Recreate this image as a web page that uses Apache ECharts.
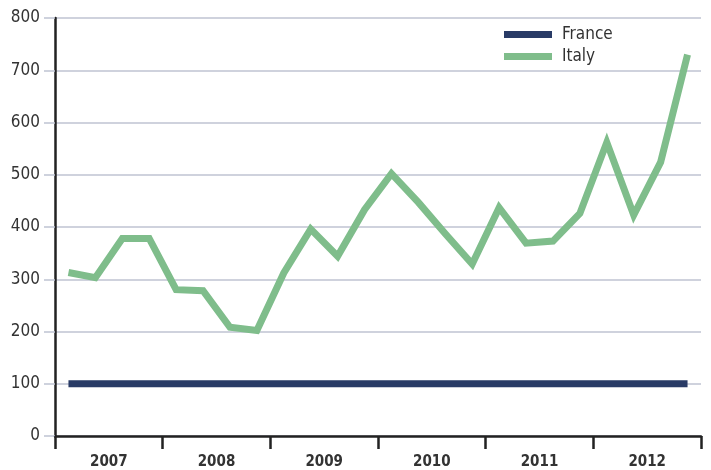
<!DOCTYPE html>
<html>
<head>
<meta charset="utf-8">
<script src="https://cdn.jsdelivr.net/npm/echarts@6/dist/echarts.min.js"></script>
<style>
  html, body { margin: 0; padding: 0; background: #fff; }
  #chart { width: 711px; height: 470px; }
</style>
</head>
<body>
<div id="chart"></div>
<script>
var years = ['2007', '2008', '2009', '2010', '2011', '2012'];
var quarters = ['Q1', 'Q2', 'Q3', 'Q4'];
var france = [100, 100, 100, 100, 100, 100, 100, 100, 100, 100, 100, 100,
              100, 100, 100, 100, 100, 100, 100, 100, 100, 100, 100, 100];
var italy = [313, 303, 378, 378, 280, 278, 208, 202, 312, 396, 344, 433,
             502, 447, 387, 329, 437, 369, 373, 426, 562, 423, 524, 730];
var yTicks = [0, 100, 200, 300, 400, 500, 600, 700, 800];

var periods = [];
years.forEach(function (y) {
    quarters.forEach(function (q) { periods.push(y + ' ' + q); });
});

var font = "'Liberation Sans Narrow', 'DejaVu Sans Condensed', sans-serif";

var option = {
    animation: false,
    backgroundColor: '#ffffff',
    textStyle: { fontFamily: font },
    legend: {
        orient: 'vertical',
        left: 504,
        top: 26,
        padding: 0,
        itemWidth: 48,
        itemHeight: 7,
        itemGap: 5,
        icon: 'rect',
        textStyle: { fontSize: 17, color: '#333', fontFamily: font, padding: [0, 0, 0, 5] },
        data: ['France', 'Italy']
    },
    grid: { left: 55, right: 10, top: 18, bottom: 31 },
    xAxis: [
        {
            type: 'category',
            data: periods,
            boundaryGap: true,
            axisLine: { show: true, lineStyle: { color: '#222', width: 2.5 } },
            axisTick: { show: false },
            axisLabel: { show: false }
        },
        {
            type: 'category',
            data: years,
            position: 'bottom',
            boundaryGap: true,
            axisLine: { show: false },
            axisTick: { show: true, length: 13, lineStyle: { color: '#222', width: 2.5 } },
            axisLabel: { fontSize: 15, fontWeight: 'bold', color: '#333', margin: 19, fontFamily: font }
        }
    ],
    yAxis: {
        type: 'value',
        min: yTicks[0],
        max: yTicks[yTicks.length - 1],
        interval: 100,
        axisLine: { show: true, lineStyle: { color: '#222', width: 2.5 } },
        axisTick: { show: true, length: 11, lineStyle: { color: '#bfc3d2', width: 1.5 } },
        axisLabel: { fontSize: 17, color: '#333', margin: 15, fontFamily: font },
        splitLine: { show: true, lineStyle: { color: '#bfc3d2', width: 1.5 } }
    },
    series: [
        {
            name: 'France',
            type: 'line',
            data: france,
            symbol: 'none',
            color: '#293b66',
            lineStyle: { width: 7, color: '#293b66' }
        },
        {
            name: 'Italy',
            type: 'line',
            data: italy,
            symbol: 'none',
            color: '#7fbd8b',
            lineStyle: { width: 7, color: '#7fbd8b', join: 'miter' }
        }
    ]
};

var myChart = echarts.init(document.getElementById('chart'));
myChart.setOption(option);
</script>
</body>
</html>
